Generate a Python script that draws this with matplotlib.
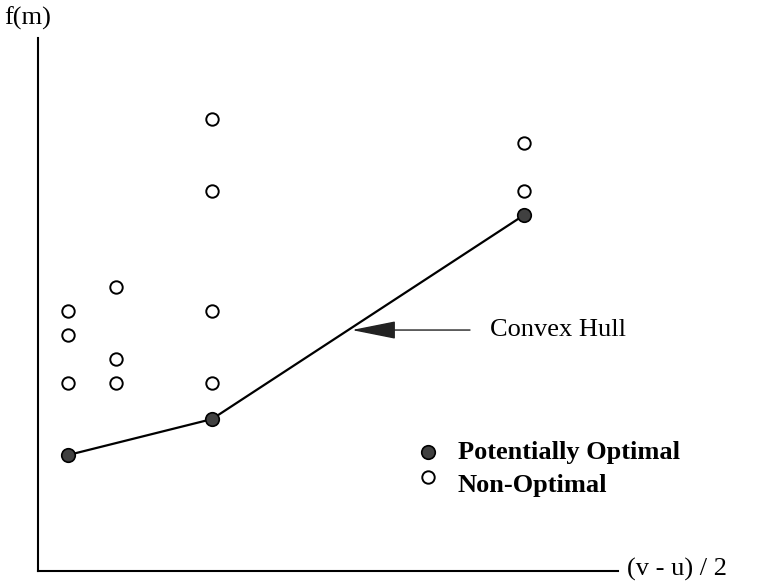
import numpy as np
import matplotlib.pyplot as plt
from matplotlib.patches import FancyArrowPatch

plt.rcParams['font.family'] = ['Liberation Serif', 'DejaVu Serif']

# interval half-widths (columns) and function values, in grid units
open_x = [1.25, 1.25, 1.25, 3.25, 3.25, 3.25, 7.25, 7.25, 7.25, 7.25, 20.25, 20.25]
open_y = [10.83, 9.83, 7.83, 11.83, 8.83, 7.83, 18.83, 15.83, 10.83, 7.83, 17.83, 15.83]
hull_x = [1.25, 7.25, 20.25]
hull_y = [4.83, 6.33, 14.83]

label_y = 10.04  # height of the "Convex Hull" pointer

fig = plt.figure(figsize=(7.57, 5.81), dpi=100)
ax = fig.add_axes([38 / 757, 10 / 581, 580 / 757, 533 / 581])
ax.set_xlim(0, 580 / 24)
ax.set_ylim(0, 533 / 24)
for side in ['top', 'right']:
    ax.spines[side].set_visible(False)
for side in ['left', 'bottom']:
    ax.spines[side].set_linewidth(1.5)
ax.set_xticks([])
ax.set_yticks([])

ax.plot(hull_x, hull_y, color='black', lw=1.6, zorder=2)
ax.scatter(open_x, open_y, s=80, facecolor='white', edgecolor='black',
           linewidths=1.4, zorder=3)
ax.scatter(hull_x, hull_y, s=95, facecolor='#404040', edgecolor='black',
           linewidths=1.2, zorder=3)

# pointer to the hull
tip_x = np.interp(label_y, hull_y, hull_x)
arrow = FancyArrowPatch((18.0, label_y), (tip_x + 0.15, label_y),
                        arrowstyle='-|>,head_length=1.4,head_width=0.28',
                        mutation_scale=20, color='#222222', lw=1.0,
                        shrinkA=0, shrinkB=0, zorder=4)
ax.add_patch(arrow)
ax.text(18.83, label_y, 'Convex Hull', fontsize=19, va='center', ha='left')

# legend
ax.scatter([16.25], [4.95], s=95, facecolor='#404040', edgecolor='black',
           linewidths=1.2, clip_on=False)
ax.scatter([16.25], [3.9], s=80, facecolor='white', edgecolor='black',
           linewidths=1.4, clip_on=False)
ax.text(17.5, 4.95, 'Potentially Optimal', fontsize=19, fontweight='bold',
        va='center', ha='left')
ax.text(17.5, 3.55, 'Non-Optimal', fontsize=19, fontweight='bold',
        va='center', ha='left')

fig.text(4 / 757, 1 - 18 / 581, 'f(m)', fontsize=19, va='center', ha='left')
fig.text(627 / 757, 1 - 569 / 581, '(v - u) / 2', fontsize=19,
         va='center', ha='left')

fig.savefig('out.png', dpi=100)
